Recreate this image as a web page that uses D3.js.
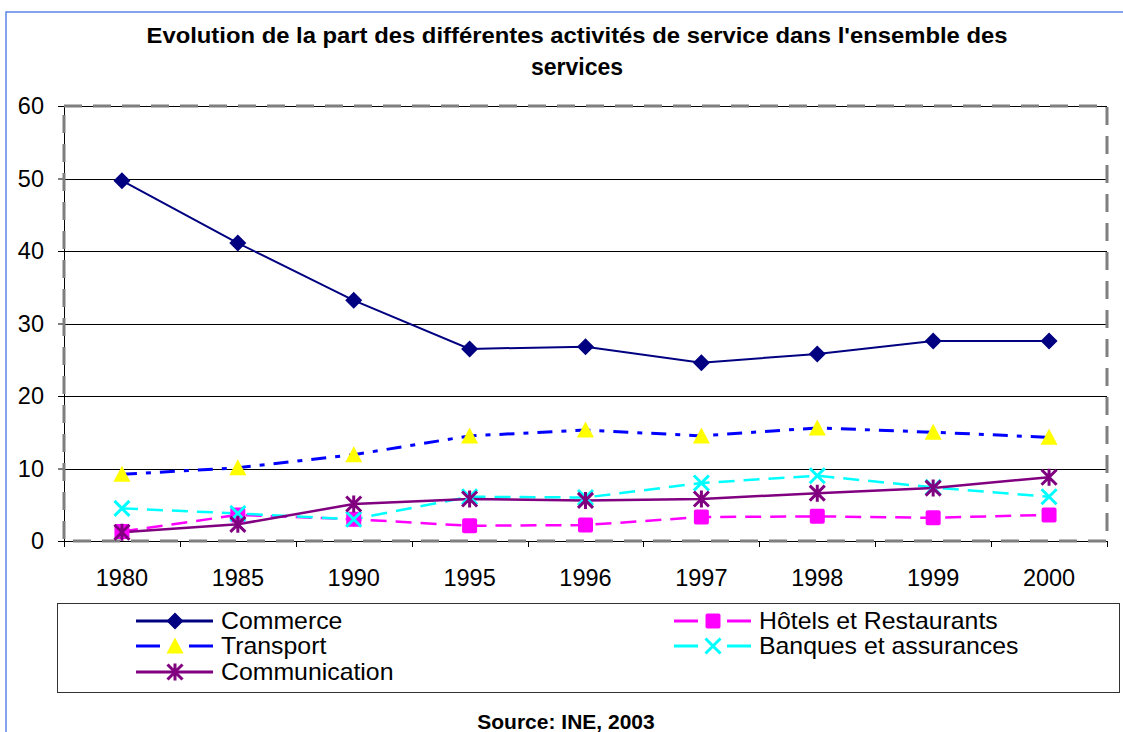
<!DOCTYPE html>
<html>
<head>
<meta charset="utf-8">
<script src="https://cdn.jsdelivr.net/npm/d3@7"></script>
<style>
  body { margin: 0; background: white; }
  svg { display: block; font-family: "Liberation Sans", Arial, sans-serif; }
</style>
</head>
<body>
<script>
// data
const years = ["1980", "1985", "1990", "1995", "1996", "1997", "1998", "1999", "2000"]
const commerce = [49.7, 41.1, 33.2, 26.5, 26.8, 24.6, 25.8, 27.6, 27.6]
const transport = [9.2, 10.1, 11.9, 14.5, 15.3, 14.5, 15.6, 15.0, 14.3]
const hotels = [1.3, 3.6, 3.0, 2.1, 2.2, 3.3, 3.4, 3.2, 3.6]
const banques = [4.5, 3.8, 3.0, 6.1, 6.0, 8.0, 9.0, 7.4, 6.1]
const communication = [1.2, 2.3, 5.1, 5.8, 5.6, 5.8, 6.6, 7.3, 8.8]
const yTicks = [0, 10, 20, 30, 40, 50, 60]

const width = 1123
const height = 732
const marginLeft = 64, marginRight = 16, marginTop = 106, marginBottom = 191

const series = [
    { name: "Commerce", values: commerce, color: "#000080", dash: null, width: 2, marker: "diamond", fill: "#000080" },
    { name: "Hôtels et Restaurants", values: hotels, color: "#ff00ff", dash: "16,9", width: 2.5, marker: "square", fill: "#ff00ff" },
    { name: "Transport", values: transport, color: "#0000ff", dash: "15,9,5,9", width: 3, marker: "triangle", fill: "#ffff00" },
    { name: "Banques et assurances", values: banques, color: "#00ffff", dash: "16,9", width: 2.5, marker: "cross", fill: "#00ffff" },
    { name: "Communication", values: communication, color: "#800080", dash: null, width: 2.5, marker: "star", fill: "#800080" }
]

const svg = d3.select("body").append("svg")
    .attr("width", width)
    .attr("height", height)

// outer frame (top and left only are visible)
svg.append("path")
    .attr("d", `M6,${height} V12 H${width}`)
    .attr("fill", "none")
    .attr("stroke", "#5b87e8")
    .attr("stroke-width", 1.5)

// titles
svg.append("text")
    .attr("x", 577).attr("y", 43)
    .attr("text-anchor", "middle")
    .attr("textLength", 861)
    .attr("lengthAdjust", "spacingAndGlyphs")
    .style("font-weight", "bold").style("font-size", "22px")
    .text("Evolution de la part des différentes activités de service dans l'ensemble des")
svg.append("text")
    .attr("x", 577).attr("y", 75)
    .attr("text-anchor", "middle")
    .style("font-weight", "bold").style("font-size", "23px")
    .text("services")

svg.append("text")
    .attr("x", 566).attr("y", 729)
    .attr("text-anchor", "middle")
    .style("font-weight", "bold").style("font-size", "21px")
    .text("Source: INE, 2003")

const x0 = marginLeft, x1 = width - marginRight
const y0 = height - marginBottom, y1 = marginTop

const xScale = d3.scalePoint().domain(years).range([x0, x1]).padding(0.5)
const xBand = d3.scaleBand().domain(years).range([x0, x1])
const yScale = d3.scaleLinear().domain([0, 60]).range([y0, y1])

// gridlines
svg.append("g")
    .selectAll("line")
    .data(yTicks.filter(d => d > 0))
    .join("line")
    .attr("x1", x0).attr("x2", x1)
    .attr("y1", d => Math.round(yScale(d)) + 0.5)
    .attr("y2", d => Math.round(yScale(d)) + 0.5)
    .attr("stroke", "black")
    .attr("stroke-width", 1)

// y axis
const yAxis = d3.axisLeft(yScale).tickValues(yTicks).tickSize(6).tickPadding(14)
svg.append("g")
    .attr("transform", `translate(${x0},0)`)
    .call(yAxis)
    .call(g => g.selectAll("text").style("font-size", "23.5px").attr("fill", "black").attr("font-family", "Liberation Sans, Arial, sans-serif"))
    .call(g => g.selectAll("line").attr("stroke", "black"))
    .call(g => g.select(".domain").attr("stroke", "black"))

// x axis: ticks sit between categories
const bounds = years.map(d => xBand(d)).concat([x1])
svg.append("g")
    .selectAll("line")
    .data(bounds)
    .join("line")
    .attr("x1", d => Math.round(d) + 0.5).attr("x2", d => Math.round(d) + 0.5)
    .attr("y1", y0).attr("y2", y0 + 6)
    .attr("stroke", "black")
svg.append("line")
    .attr("x1", x0).attr("x2", x1)
    .attr("y1", y0 + 0.5).attr("y2", y0 + 0.5)
    .attr("stroke", "black")
svg.append("g")
    .selectAll("text")
    .data(years)
    .join("text")
    .attr("x", d => xScale(d))
    .attr("y", y0 + 45)
    .attr("text-anchor", "middle")
    .style("font-size", "23.5px")
    .text(d => d)

// dashed plot border
svg.append("rect")
    .attr("x", x0).attr("y", y1)
    .attr("width", x1 - x0).attr("height", y0 - y1)
    .attr("fill", "none")
    .attr("stroke", "#7f7f7f")
    .attr("stroke-width", 3)
    .attr("stroke-dasharray", "18,11")

// marker shapes
function drawMarker(g, type, fill, size) {
    const s = size / 2
    if (type === "diamond") {
        g.append("path").attr("d", `M0,${-s - 1} L${s + 1},0 L0,${s + 1} L${-s - 1},0 Z`).attr("fill", fill)
    } else if (type === "square") {
        g.append("rect").attr("x", -s).attr("y", -s).attr("width", size).attr("height", size)
            .attr("rx", 2).attr("fill", fill)
    } else if (type === "triangle") {
        g.append("path").attr("d", `M0,${-s - 1} L${s + 1},${s} L${-s - 1},${s} Z`).attr("fill", fill)
    } else if (type === "cross") {
        g.append("path").attr("d", `M${-s},${-s} L${s},${s} M${s},${-s} L${-s},${s}`)
            .attr("stroke", fill).attr("stroke-width", 3)
    } else if (type === "star") {
        g.append("path").attr("d", `M${-s},${-s} L${s},${s} M${s},${-s} L${-s},${s} M0,${-s - 1} L0,${s + 1}`)
            .attr("stroke", fill).attr("stroke-width", 3)
    }
}

const line = d3.line()
    .x((d, i) => xScale(years[i]))
    .y(d => yScale(d))

// draw lower series first, commerce last
const drawOrder = [series[2], series[1], series[3], series[4], series[0]]
drawOrder.forEach(s => {
    svg.append("path")
        .datum(s.values)
        .attr("d", line)
        .attr("fill", "none")
        .attr("stroke", s.color)
        .attr("stroke-width", s.width)
        .attr("stroke-dasharray", s.dash)
})
drawOrder.forEach(s => {
    s.values.forEach((v, i) => {
        const g = svg.append("g").attr("transform", `translate(${xScale(years[i])},${yScale(v)})`)
        drawMarker(g, s.marker, s.fill, 15)
    })
})

// legend
svg.append("rect")
    .attr("x", 57.5).attr("y", 603.5)
    .attr("width", 1062).attr("height", 89)
    .attr("fill", "none")
    .attr("stroke", "#333")
    .attr("stroke-width", 1)

const legendPos = [
    { x: 136, y: 621 }, { x: 674, y: 621 },
    { x: 136, y: 646 }, { x: 674, y: 646 },
    { x: 136, y: 672 }
]
series.forEach((s, i) => {
    const p = legendPos[i]
    const g = svg.append("g").attr("transform", `translate(${p.x},${p.y})`)
    if (s.dash) {
        g.append("line").attr("x1", 0).attr("x2", 24).attr("stroke", s.color).attr("stroke-width", 3)
        g.append("line").attr("x1", 53).attr("x2", 77).attr("stroke", s.color).attr("stroke-width", 3)
    } else {
        g.append("line").attr("x1", 0).attr("x2", 77).attr("stroke", s.color).attr("stroke-width", 3)
    }
    const m = g.append("g").attr("transform", "translate(39,0)")
    drawMarker(m, s.marker, s.fill, 15)
    // the source glyphs are a little wider than Liberation Sans
    g.append("text")
        .attr("transform", "translate(85,8) scale(1.08,1)")
        .style("font-size", "23px")
        .text(s.name)
})
</script>
</body>
</html>
